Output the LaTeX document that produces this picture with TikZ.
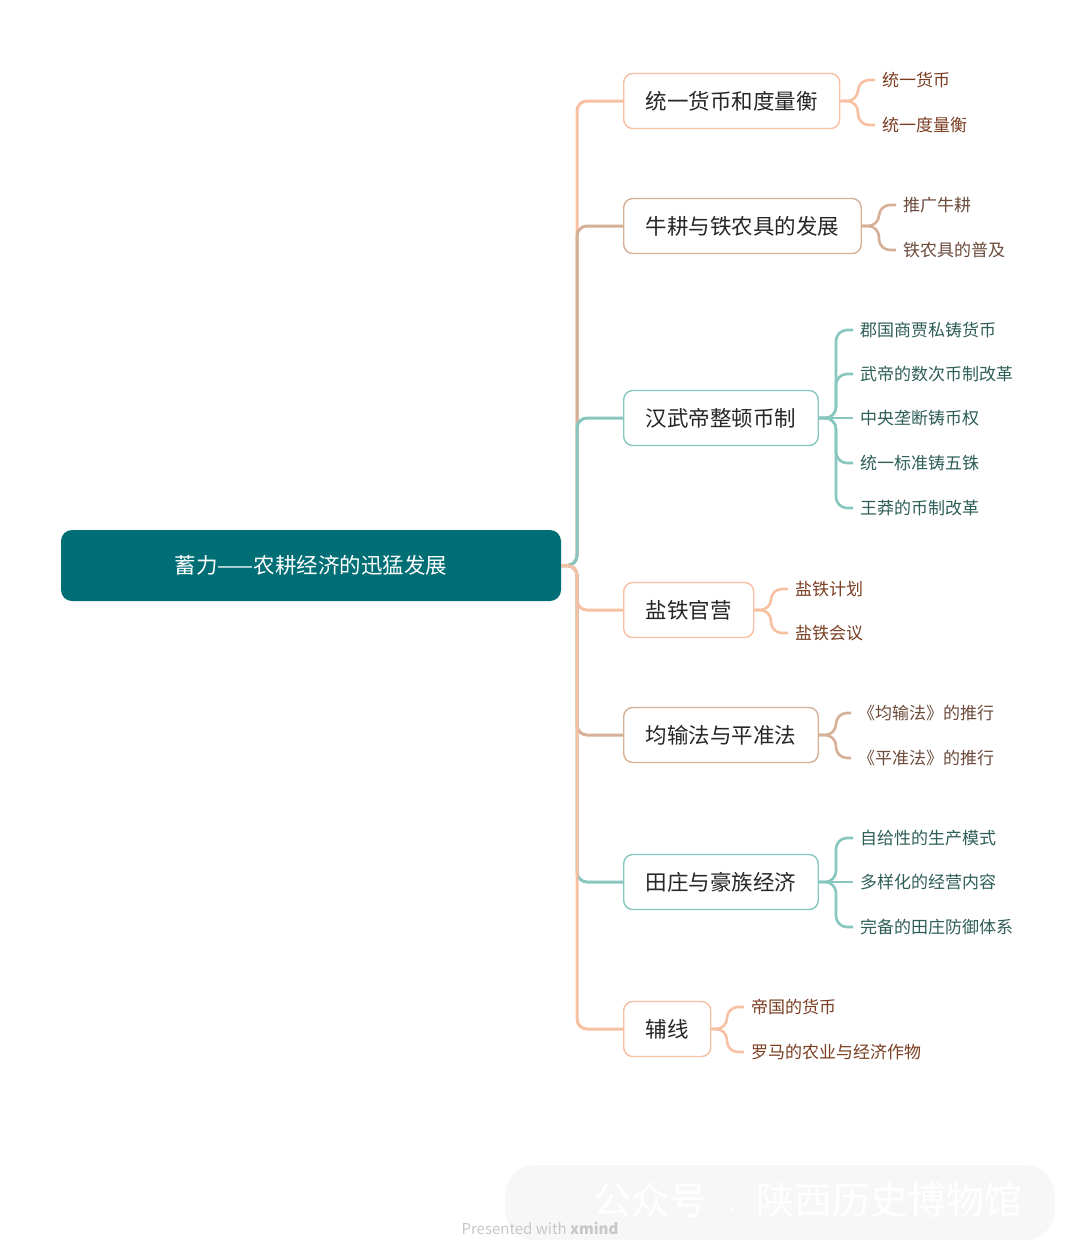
\documentclass[tikz,border=0pt]{standalone}
\usepackage{fontspec}
\setmainfont{Noto Sans CJK SC}
\usepackage{tikz}
\usetikzlibrary{positioning,calc}
\definecolor{rootfill}{HTML}{006E75}
\definecolor{peach}{HTML}{F8C0A2}
\definecolor{tan}{HTML}{D6B096}
\definecolor{mint}{HTML}{88C7BF}
\definecolor{peachtxt}{HTML}{7A3E22}
\definecolor{tantxt}{HTML}{6B4A3A}
\definecolor{minttxt}{HTML}{2E5E57}
\tikzset{
  rootbox/.style={fill=rootfill,rounded corners=11pt,minimum width=500pt,minimum height=71pt,
    text=white,font=\fontsize{21.5}{24}\selectfont},
  topic/.style={draw,rounded corners=9pt,line width=1.4pt,fill=white,minimum height=55pt,
    inner xsep=22pt,anchor=west,text=black!85,font=\fontsize{21.5}{24}\selectfont},
  leaf/.style={anchor=west,inner xsep=7pt,inner ysep=0pt,font=\fontsize{17}{19}\selectfont},
  branch/.style={line width=3pt,rounded corners=10pt},
  twig/.style={line width=2.6pt,rounded corners=11pt}
}

\begin{document}
\begin{tikzpicture}[x=1pt,y=-1pt]
 \useasboundingbox (0,0) rectangle (1080,1259);
 % root and main topics
 \node[rootbox] (root) at (311,565.5) {蓄力——农耕经济的迅猛发展};
 \coordinate (hub) at (577,565.5);
 \node[topic,draw=peach] (money) at (623,101) {统一货币和度量衡};
 \node[topic,draw=tan] (plough) at (623,226) {牛耕与铁农具的发展};
 \node[topic,draw=mint] (coin) at (623,418) {汉武帝整顿币制};
 \node[topic,draw=peach] (salt) at (623,610) {盐铁官营};
 \node[topic,draw=tan] (junshu) at (623,735) {均输法与平准法};
 \node[topic,draw=mint] (manor) at (623,882) {田庄与豪族经济};
 \node[topic,draw=peach] (aux) at (623,1029) {辅线};
 % branches, later ones on top
 \draw[branch,peach] (root.east) -- (hub) -- (hub|-money.west) -- (money.west);
 \draw[branch,tan] (root.east) -- (hub) -- (hub|-plough.west) -- (plough.west);
 \draw[branch,mint] (root.east) -- (hub) -- (hub|-coin.west) -- (coin.west);
 \draw[branch,peach] (root.east) -- (hub) -- (hub|-salt.west) -- (salt.west);
 \draw[branch,tan] (root.east) -- (hub) -- (hub|-junshu.west) -- (junshu.west);
 \draw[branch,mint] (root.east) -- (hub) -- (hub|-manor.west) -- (manor.west);
 \draw[branch,peach] (root.east) -- (hub) -- (hub|-aux.west) -- (aux.west);
 % leaves
 \node[leaf,text=peachtxt] (m1) at (875,80) {统一货币};
 \node[leaf,text=peachtxt] (m2) at (875,125) {统一度量衡};
 \node[leaf,text=tantxt] (p1) at (896,205) {推广牛耕};
 \node[leaf,text=tantxt] (p2) at (896,250) {铁农具的普及};
 \node[leaf,text=minttxt] (c1) at (853,330) {郡国商贾私铸货币};
 \node[leaf,text=minttxt] (c2) at (853,374) {武帝的数次币制改革};
 \node[leaf,text=minttxt] (c3) at (853,418) {中央垄断铸币权};
 \node[leaf,text=minttxt] (c4) at (853,463) {统一标准铸五铢};
 \node[leaf,text=minttxt] (c5) at (853,508) {王莽的币制改革};
 \node[leaf,text=peachtxt] (s1) at (788,589) {盐铁计划};
 \node[leaf,text=peachtxt] (s2) at (788,633) {盐铁会议};
 \node[leaf,text=tantxt] (j1) at (851,713) {《均输法》的推行};
 \node[leaf,text=tantxt] (j2) at (851,758) {《平准法》的推行};
 \node[leaf,text=minttxt] (f1) at (853,838) {自给性的生产模式};
 \node[leaf,text=minttxt] (f2) at (853,882) {多样化的经营内容};
 \node[leaf,text=minttxt] (f3) at (853,927) {完备的田庄防御体系};
 \node[leaf,text=peachtxt] (a1) at (744,1007) {帝国的货币};
 \node[leaf,text=peachtxt] (a2) at (744,1052) {罗马的农业与经济作物};
 % brackets
 \draw[twig,peach] (money.east) -- (858,101) -- (858,80) -- (m1.west);
 \draw[twig,peach] (money.east) -- (858,101) -- (858,125) -- (m2.west);
 \draw[twig,tan] (plough.east) -- (879,226) -- (879,205) -- (p1.west);
 \draw[twig,tan] (plough.east) -- (879,226) -- (879,250) -- (p2.west);
 \draw[twig,mint] (coin.east) -- (836,418) -- (836,330) -- (c1.west);
 \draw[twig,mint] (coin.east) -- (836,418) -- (836,374) -- (c2.west);
 \draw[twig,mint] (coin.east) -- (c3.west);
 \draw[twig,mint] (coin.east) -- (836,418) -- (836,463) -- (c4.west);
 \draw[twig,mint] (coin.east) -- (836,418) -- (836,508) -- (c5.west);
 \draw[twig,peach] (salt.east) -- (771,610) -- (771,589) -- (s1.west);
 \draw[twig,peach] (salt.east) -- (771,610) -- (771,633) -- (s2.west);
 \draw[twig,tan] (junshu.east) -- (836,735) -- (836,713) -- (j1.west);
 \draw[twig,tan] (junshu.east) -- (836,735) -- (836,758) -- (j2.west);
 \draw[twig,mint] (manor.east) -- (836,882) -- (836,838) -- (f1.west);
 \draw[twig,mint] (manor.east) -- (f2.west);
 \draw[twig,mint] (manor.east) -- (836,882) -- (836,927) -- (f3.west);
 \draw[twig,peach] (aux.east) -- (727,1029) -- (727,1007) -- (a1.west);
 \draw[twig,peach] (aux.east) -- (727,1029) -- (727,1052) -- (a2.west);
 % watermark
 \fill[black!3,rounded corners=30pt] (505,1165) rectangle (1055,1240);
 \node[text=white,font=\fontsize{38}{40}\selectfont] (wm) at (808,1200) {公众号\ \ {\fontsize{14}{16}\selectfont ·}\ \ 陕西历史博物馆};
 \node[text=black!22,font=\fontsize{15}{17}\selectfont] (xm) at (540,1228) {Presented with \textbf{xmind}};
\end{tikzpicture}
\end{document}
